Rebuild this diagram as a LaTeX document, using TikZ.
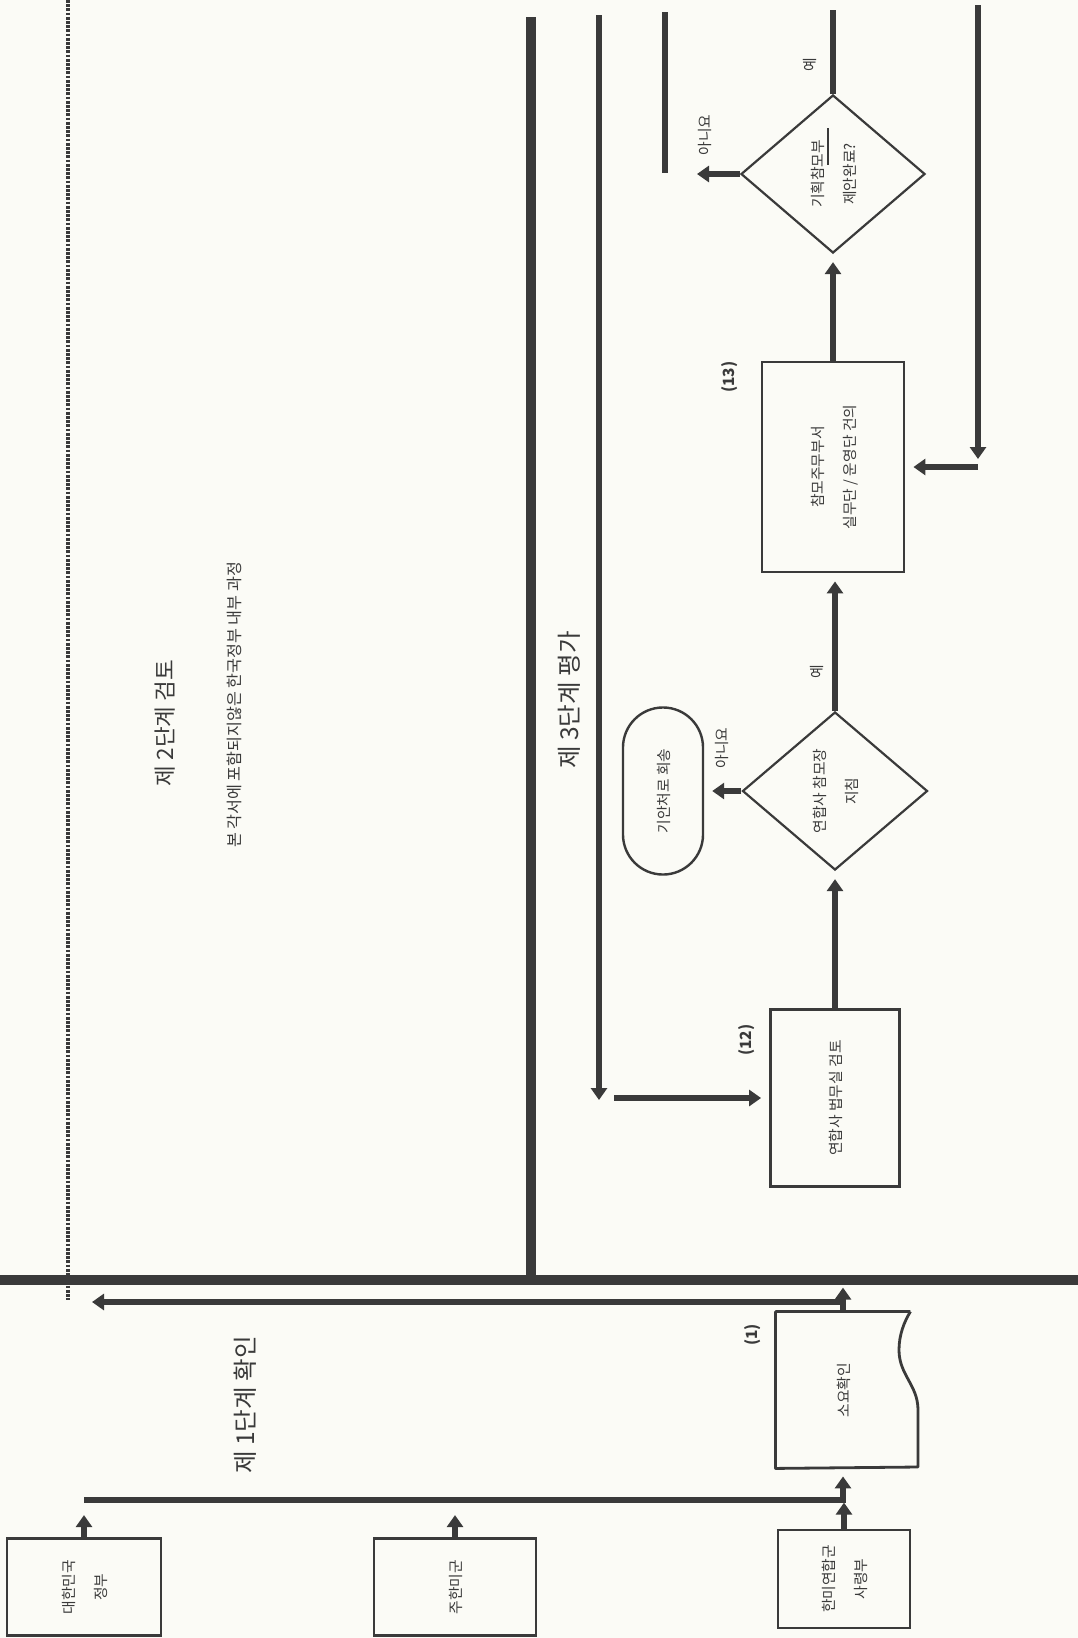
\documentclass[tikz,border=0pt]{standalone}
\usepackage{fontspec}
\usepackage{graphicx}
\usepackage{xcolor}
\setmainfont{Noto Sans CJK KR}
\usetikzlibrary{arrows.meta,shapes.geometric}
\definecolor{ink}{RGB}{58,58,58}
\definecolor{paper}{RGB}{251,251,246}
\newcommand{\boxfont}{\fontsize{10.5}{23}\selectfont}
\newcommand{\stagefont}{\fontsize{17.5}{20}\selectfont}
\newcommand{\notefont}{\fontsize{11.5}{14}\selectfont}
\newcommand{\tagfont}{\fontsize{11}{13}\selectfont\bfseries}
\newcommand{\vtext}[1]{\rotatebox{90}{\begin{tabular}{@{}c@{}}#1\end{tabular}}}

\begin{document}
\begin{tikzpicture}[x=0.025cm, y=-0.025cm,
    box/.style={draw=ink, line width=0.07cm, inner sep=0pt, text=ink, font=\boxfont},
    decision/.style={diamond, draw=ink, line width=0.055cm, inner sep=0pt, text=ink, font=\boxfont},
    terminal/.style={draw=ink, line width=0.06cm, rounded corners=1cm, inner sep=0pt,
        minimum width=2cm, minimum height=4.175cm, text=ink, font=\boxfont},
    flow/.style={draw=ink, line width=0.15cm},
    arr/.style={flow, shorten >=0.2cm, -{Triangle[length=0.3cm,width=0.4cm]}},
    divider/.style={draw=ink, line width=0.25cm},
    stage/.style={rotate=90, text=ink, font=\stagefont},
    tag/.style={rotate=90, text=ink, font=\tagfont},
    answer/.style={rotate=90, text=ink, font=\boxfont}
    ]
    \useasboundingbox (0,0) rectangle (1078,1638);
    \fill[paper] (0,0) rectangle (1078,1638);

    % stage borders
    \draw[divider] (0,1280) -- (1078,1280);
    \draw[divider] (531,17) -- (531,1280);
    \draw[ink, line width=0.1cm, dash pattern=on 0.07cm off 0.035cm] (68,0) -- (68,1300);

    \node[stage] (st1) at (245,1405) {제 1단계 확인};
    \node[stage, font=\fontsize{16}{19}\selectfont] (st2) at (165,723) {제 2단계 검토};
    \node[rotate=90, text=ink, font=\notefont] (note) at (234,705) {본 각서에 포함되지않은 한국정부 내부 과정};
    \node[stage] (st3) at (569,700) {제 3단계 평가};

    % stage 1
    \node[box, minimum width=3.85cm, minimum height=2.425cm] (kor) at (84,1587) {\vtext{대한민국\\정부}};
    \node[box, minimum width=4.05cm, minimum height=2.425cm] (usfk) at (455,1587) {\vtext{주한미군}};
    \node[box, minimum width=3.3cm, minimum height=2.45cm] (cfc) at (844,1579) {\vtext{한미연합군\\사령부}};
    \node[box, draw=none, minimum width=3.3cm, minimum height=3.85cm] (b1) at (843,1390) {\vtext{소요확인}};
    \draw[ink, line width=0.07cm, line join=round] (b1.north east) -- (b1.north west) -- (b1.south west)
        -- (918,1467) -- (918,1410) .. controls (918,1385) and (899,1375) .. (899,1350)
        .. controls (899,1335) and (904,1322) .. (b1.north east);
    \node[tag] (t1) at (753,1335) {(1)};

    \coordinate (join) at (84,1500);
    \coordinate (back) at (84,1302);
    \draw[arr] (kor.north) -- ++(0,-30);
    \draw[arr] (usfk.north) -- ++(0,-30);
    \draw[arr] (cfc.north) -- ++(0,-34);
    \draw[arr] (join) -| (b1.south);
    \draw[arr] (b1.north) -- ++(0,-32);
    \draw[arr] (b1.north |- back) -- (back);

    % stage 3
    \coordinate (in12) at (599,15);
    \coordinate (turn12) at (599,1108);
    \coordinate (feed12) at (614,1098);
    \node[box, minimum width=3.225cm, minimum height=4.425cm] (b12) at (835,1098) {\vtext{연합사 법무실 검토}};
    \node[tag] (t12) at (747,1040) {(12)};
    \draw[arr] (in12) -- (turn12);
    \draw[arr] (feed12) -- (b12.west);

    \node[decision, minimum width=4.625cm, minimum height=3.95cm] (d1) at (835,791) {\vtext{연합사 참모장\\지침}};
    \node[terminal] (ret) at (663,791) {\vtext{기안처로 회송}};
    \draw[arr] (b12) -- (d1);
    \draw[arr] (d1.west) -- (ret.east);
    \node[answer] at (722,748) {아니요};
    \node[answer] at (817,672) {예};

    \node[box, minimum width=3.55cm, minimum height=5.25cm] (b13) at (833,467) {\vtext{참모주무부서\\실무단 / 운영단 건의}};
    \node[tag] (t13) at (730,377) {(13)};
    \coordinate (in13) at (978,5);
    \coordinate (turn13) at (978,467);
    \draw[arr] (d1.north) -- (d1.north |- b13.south);
    \draw[arr] (in13) -- (turn13);
    \draw[arr] (turn13) -- (b13.east);

    \node[decision, minimum width=4.6cm, minimum height=3.95cm] (d2) at (833,174) {\vtext{기획참모부\\제안완료?}};
    \draw[ink, line width=0.03cm] (828,128) -- (828,165);
    \coordinate (yes2) at (833,10);
    \coordinate (no2) at (689,174);
    \draw[arr] (b13) -- (d2);
    \draw[flow] (d2.north) -- (yes2);
    \draw[arr] (d2.west) -- (no2);
    \node[answer] at (810,65) {예};
    \node[answer] at (705,135) {아니요};
    \draw[flow] (665,12) -- (665,173);
\end{tikzpicture}
\end{document}
